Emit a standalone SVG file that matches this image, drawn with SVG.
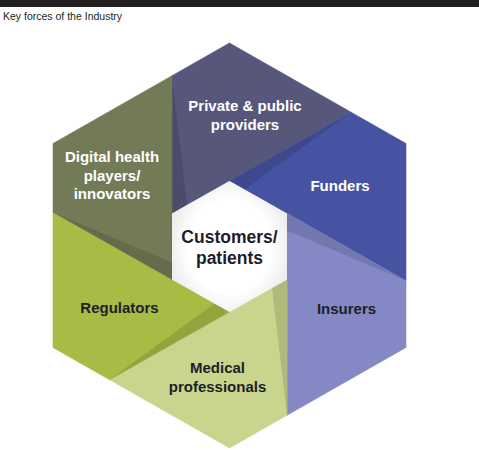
<svg xmlns="http://www.w3.org/2000/svg" width="479" height="450" viewBox="0 0 479 450">
<defs>
<style>
.lbl{font-family:"Liberation Sans",Arial,sans-serif;font-weight:bold;font-size:15px;text-anchor:middle}
.big{font-size:17.5px}
.w{fill:#ffffff}
.d{fill:#1e1e28}
.sh{fill:#000000;fill-opacity:0.12}
</style>
<radialGradient id="inner" cx="0.5" cy="0.5" r="0.6">
<stop offset="0.6" stop-color="#ffffff"/>
<stop offset="1" stop-color="#e6e6e6"/>
</radialGradient>
</defs>
<rect x="0" y="0" width="479" height="450" fill="#ffffff"/>
<rect x="0" y="0" width="479" height="7" fill="#231f20"/>
<text x="3" y="20" font-family="Liberation Sans, Arial, sans-serif" font-size="10.5" fill="#231f20">Key forces of the Industry</text>

<g id="providers">
<polygon points="229.5,43 351.1,112.2 172,213.5 172,75.7" fill="#56577a" stroke="#56577a" stroke-width="0.6"/>
<polygon class="sh" points="172,75.7 172,213.5 187,205.1"/>
<text class="lbl w" x="245" y="111">Private &amp; public</text>
<text class="lbl w" x="245" y="130">providers</text>
</g>
<g id="funders">
<polygon points="351.1,112.2 406,143.5 406,280.8 229.5,181" fill="#4652a2" stroke="#4652a2" stroke-width="0.6"/>
<polygon class="sh" points="351.1,112.2 229.5,181 244.5,189.4"/>
<text class="lbl w" x="340" y="191">Funders</text>
</g>
<g id="insurers">
<polygon points="406,280.8 406,347.5 287,415.3 287,213.5" fill="#8488c5" stroke="#8488c5" stroke-width="0.6"/>
<polygon class="sh" points="406,280.8 287,213.5 287,230.5"/>
<text class="lbl d" x="346.5" y="314">Insurers</text>
</g>
<g id="medical">
<polygon points="109.6,379.8 229.5,448 287,415.3 287,279.5" fill="#c9d58d" stroke="#c9d58d" stroke-width="0.6"/>
<polygon class="sh" points="287,415.3 287,279.5 272,287.9"/>
<text class="lbl d" x="217.5" y="373">Medical</text>
<text class="lbl d" x="217.5" y="392">professionals</text>
</g>
<g id="regulators">
<polygon points="53,212.2 53,347.5 109.6,379.8 229.5,312" fill="#a8bb45" stroke="#a8bb45" stroke-width="0.6"/>
<polygon class="sh" points="109.6,379.8 229.5,312 214.5,303.6"/>
<text class="lbl d" x="119.5" y="313">Regulators</text>
</g>
<g id="digital">
<polygon points="53,143.5 172,75.7 172,279.5 53,212.2" fill="#737a56" stroke="#737a56" stroke-width="0.6"/>
<polygon class="sh" points="53,212.2 172,279.5 172,262.5"/>
<text class="lbl w" x="112" y="162">Digital health</text>
<text class="lbl w" x="112" y="180.5">players/</text>
<text class="lbl w" x="112" y="199">innovators</text>
</g>
<g id="customers">
<polygon points="229.5,181 287,213.5 287,279.5 229.5,312 172,279.5 172,213.5" fill="url(#inner)"/>
<text class="lbl d big" x="229.5" y="243">Customers/</text>
<text class="lbl d big" x="229.5" y="264">patients</text>
</g>
<g id="connectors"></g>
</svg>
